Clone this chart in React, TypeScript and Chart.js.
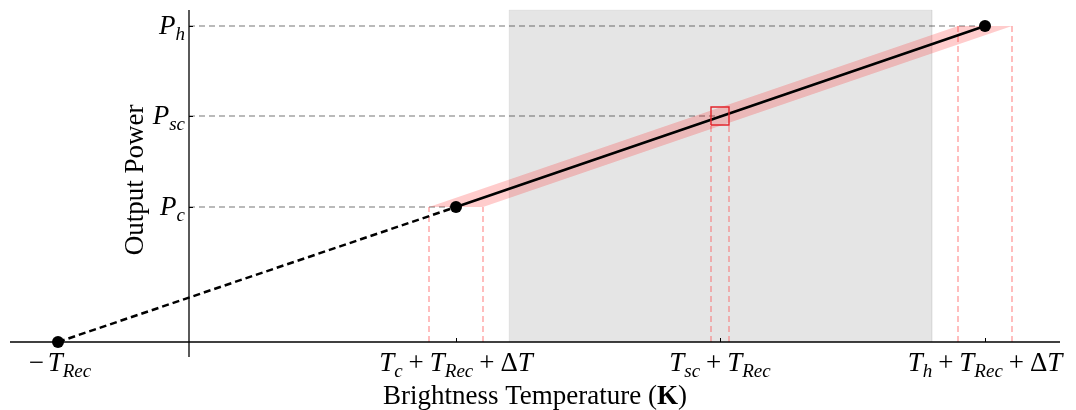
import React, { useEffect, useRef } from "react";
import { Chart, registerables } from "chart.js";

Chart.register(...registerables);

// ---- axis ranges (data units) ----
const xRange = [-179, 871];
const yRange = [0, 332];

// ---- ticks ----
const xTickValues = [-131, 267, 531, 796];
const xTickLabels = ["−T_{Rec}", "T_c+T_{Rec}+ΔT", "T_{sc}+T_{Rec}", "T_h+T_{Rec}+ΔT"];
const yTickValues = [135, 226, 316];
const yTickLabels = ["P_c", "P_{sc}", "P_h"];
const xTitle = "Brightness Temperature (K)";
const yTitle = "Output Power";

// ---- series ----
const extrapX = [-131, 267];
const extrapY = [0, 135];
const calibX = [267, 796];
const calibY = [135, 316];
const markerX = [-131, 267, 796];
const markerY = [0, 135, 316];
const bandX = [240, 769, 823, 294];
const bandY = [135, 316, 316, 135];
const shadeX = [320, 743];
const shadeTop = 332;
const guideEndX = [267, 531, 796];
const guideY = [135, 226, 316];
const errLeftX = [240, 522, 769];
const errRightX = [294, 540, 823];
const errTopY = [135, 217, 316];
const boxX = [522, 540];
const boxY = [217, 235];
const yAxisBottom = -15;

const SERIF = "'Liberation Serif', 'Times New Roman', serif";
const MAIN = 27;
const SUB = 19;

type Run = { text: string; italic: boolean; sub: boolean; pad: number };

function parseMath(s: string): Run[] {
  const runs: Run[] = [];
  let i = 0;
  while (i < s.length) {
    const ch = s[i];
    if (ch === "_") {
      let content = "";
      if (s[i + 1] === "{") {
        const j = s.indexOf("}", i);
        content = s.slice(i + 2, j);
        i = j + 1;
      } else {
        content = s[i + 1];
        i += 2;
      }
      runs.push({ text: content, italic: true, sub: true, pad: 0 });
      continue;
    }
    runs.push({ text: ch, italic: /[A-Za-z]/.test(ch), sub: false, pad: ch === "+" ? 0.22 : ch === "−" ? 0.14 : 0 });
    i++;
  }
  return runs;
}

function fontFor(r: Run) {
  return `${r.italic ? "italic " : ""}${r.sub ? SUB : MAIN}px ${SERIF}`;
}

function drawMath(ctx: CanvasRenderingContext2D, s: string, x: number, y: number, align: "left" | "center" | "right") {
  const runs = parseMath(s);
  const widths = runs.map((r) => {
    ctx.font = fontFor(r);
    return ctx.measureText(r.text).width + 2 * r.pad * MAIN;
  });
  const total = widths.reduce((a, b) => a + b, 0);
  let cx = align === "left" ? x : align === "center" ? x - total / 2 : x - total;
  ctx.textAlign = "left";
  ctx.textBaseline = "alphabetic";
  runs.forEach((r, k) => {
    ctx.font = fontFor(r);
    ctx.fillText(r.text, cx + r.pad * MAIN, y + (r.sub ? 5.5 : 0));
    cx += widths[k];
  });
}

const pts = (xs: number[], ys: number[]) => xs.map((x, i) => ({ x, y: ys[i] }));

const annotationPlugin = {
  id: "mathText",
  afterDraw(chart: any) {
    const ctx: CanvasRenderingContext2D = chart.ctx;
    const xs = chart.scales.x;
    const ys = chart.scales.y;
    const x0 = xs.getPixelForValue(0);
    const y0 = ys.getPixelForValue(0);
    ctx.save();
    ctx.fillStyle = "#000";
    ctx.strokeStyle = "#000";
    ctx.lineWidth = 1;
    // ticks (inward)
    xTickValues.forEach((v) => {
      const px = Math.round(xs.getPixelForValue(v)) + 0.5;
      ctx.beginPath();
      ctx.moveTo(px, y0);
      ctx.lineTo(px, y0 - 4);
      ctx.stroke();
    });
    yTickValues.forEach((v) => {
      const py = Math.round(ys.getPixelForValue(v)) + 0.5;
      ctx.beginPath();
      ctx.moveTo(x0, py);
      ctx.lineTo(x0 + 4, py);
      ctx.stroke();
    });
    // tick labels
    xTickValues.forEach((v, i) => {
      drawMath(ctx, xTickLabels[i], xs.getPixelForValue(v), y0 + 29, "center");
    });
    yTickValues.forEach((v, i) => {
      drawMath(ctx, yTickLabels[i], x0 - 4, ys.getPixelForValue(v) + 8, "right");
    });
    // x title with bold K
    const parts = [
      { t: xTitle.slice(0, xTitle.indexOf("K")), b: false },
      { t: "K", b: true },
      { t: xTitle.slice(xTitle.indexOf("K") + 1), b: false },
    ];
    const fw = (p: { t: string; b: boolean }) => `${p.b ? "bold " : ""}${MAIN}px ${SERIF}`;
    let tw = 0;
    parts.forEach((p) => {
      ctx.font = fw(p);
      tw += ctx.measureText(p.t).width;
    });
    let tx = (chart.chartArea.left + chart.chartArea.right) / 2 - tw / 2;
    ctx.textAlign = "left";
    ctx.textBaseline = "alphabetic";
    parts.forEach((p) => {
      ctx.font = fw(p);
      ctx.fillText(p.t, tx, y0 + 62);
      tx += ctx.measureText(p.t).width;
    });
    // y title
    ctx.save();
    ctx.translate(x0 - 46, ys.getPixelForValue(162));
    ctx.rotate(-Math.PI / 2);
    ctx.font = `${MAIN}px ${SERIF}`;
    ctx.textAlign = "center";
    ctx.fillText(yTitle, 0, 0);
    ctx.restore();
    ctx.restore();
  },
};

export default function App() {
  const ref = useRef<HTMLCanvasElement>(null);
  useEffect(() => {
    const guideData: any[] = [];
    guideY.forEach((y, i) => {
      guideData.push({ x: 0, y }, { x: guideEndX[i], y }, { x: guideEndX[i], y: null });
    });
    const errData: any[] = [];
    errTopY.forEach((y, i) => {
      errData.push({ x: errLeftX[i], y: 0 }, { x: errLeftX[i], y }, { x: errLeftX[i], y: null });
      errData.push({ x: errRightX[i], y: 0 }, { x: errRightX[i], y }, { x: errRightX[i], y: null });
    });
    const base = { pointRadius: 0, clip: false as any, fill: false, tension: 0 };
    const chart = new Chart(ref.current!, {
      type: "line",
      data: {
        datasets: [
          {
            ...base,
            data: [
              { x: boxX[0], y: boxY[0] },
              { x: boxX[0], y: boxY[1] },
              { x: boxX[1], y: boxY[1] },
              { x: boxX[1], y: boxY[0] },
              { x: boxX[0], y: boxY[0] },
            ],
            borderColor: "#e3242b",
            borderWidth: 1.4,
          },
          {
            ...base,
            data: pts(markerX, markerY),
            showLine: false,
            pointRadius: 6,
            pointBackgroundColor: "#000",
            pointBorderWidth: 0,
            borderColor: "#000",
          },
          { ...base, data: pts(calibX, calibY), borderColor: "#000", borderWidth: 2.6 },
          { ...base, data: pts(extrapX, extrapY), borderColor: "#000", borderWidth: 2.5, borderDash: [7, 4] },
          { ...base, data: [{ x: xRange[0], y: 0 }, { x: xRange[1], y: 0 }], borderColor: "#000", borderWidth: 1.3 },
          { ...base, data: [{ x: 0, y: yAxisBottom }, { x: 0, y: yRange[1] }], borderColor: "#000", borderWidth: 1.3 },
          {
            ...base,
            data: pts(bandX, bandY),
            fill: "shape",
            borderWidth: 0,
            borderColor: "rgba(0,0,0,0)",
            backgroundColor: "rgba(255,0,0,0.2)",
          },
          { ...base, data: errData, borderColor: "rgba(255,60,60,0.45)", borderWidth: 1.5, borderDash: [6, 4] },
          { ...base, data: guideData, borderColor: "rgba(0,0,0,0.36)", borderWidth: 1.5, borderDash: [6, 4] },
          {
            ...base,
            data: [
              { x: shadeX[0], y: 0 },
              { x: shadeX[0], y: shadeTop },
              { x: shadeX[1], y: shadeTop },
              { x: shadeX[1], y: 0 },
            ],
            fill: "shape",
            borderWidth: 1,
            borderColor: "rgba(0,0,0,0.04)",
            backgroundColor: "rgba(0,0,0,0.1)",
          },
        ],
      },
      options: {
        responsive: false,
        animation: false,
        events: [],
        layout: { autoPadding: false, padding: { left: 10, top: 10, right: 16, bottom: 68 } },
        scales: {
          x: { type: "linear", min: xRange[0], max: xRange[1], display: false },
          y: { type: "linear", min: yRange[0], max: yRange[1], display: false },
        },
        plugins: { legend: { display: false }, tooltip: { enabled: false } },
      },
      plugins: [annotationPlugin],
    } as any);
    return () => chart.destroy();
  }, []);
  return (
    <div style={{ position: "fixed", left: 0, top: 0, width: 1076, height: 410 }}>
      <canvas ref={ref} width={1076} height={410} style={{ display: "block" }} />
    </div>
  );
}
